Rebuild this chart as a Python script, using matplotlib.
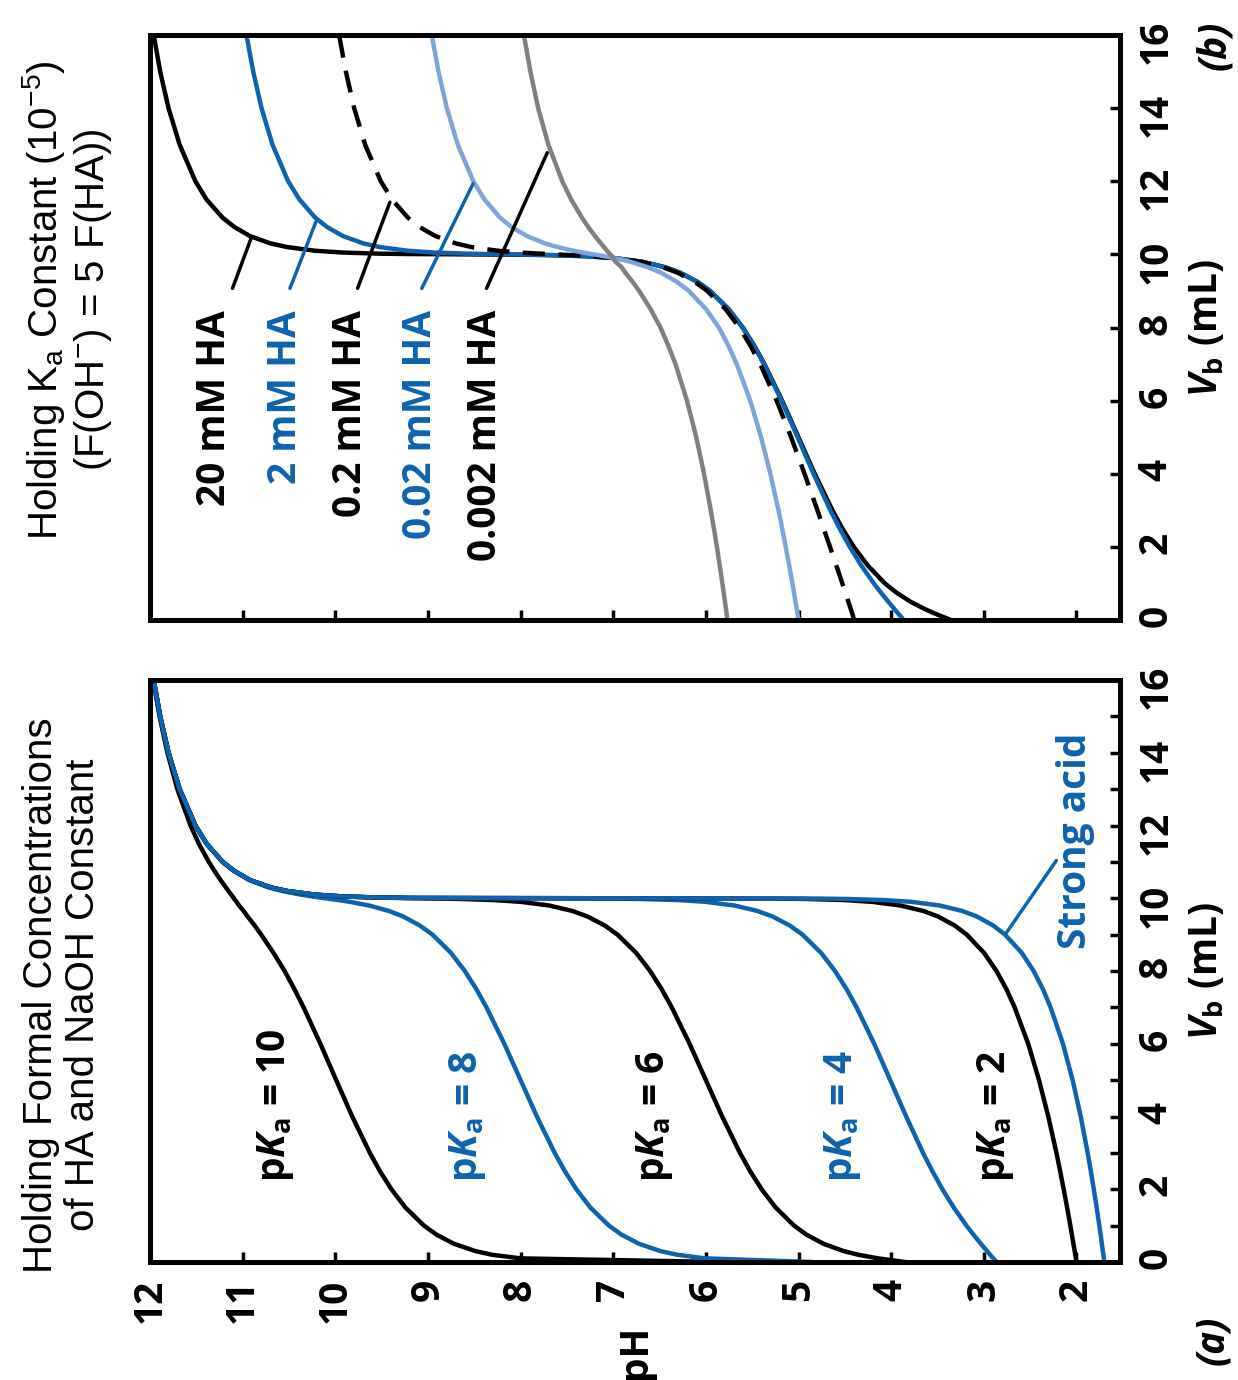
import matplotlib
matplotlib.use('Agg')
import matplotlib.pyplot as plt
from matplotlib.ticker import MultipleLocator

plt.rcParams['mathtext.fontset'] = 'custom'
plt.rcParams['mathtext.rm'] = 'Open Sans:bold'
plt.rcParams['mathtext.it'] = 'Open Sans:italic:bold'
plt.rcParams['mathtext.bf'] = 'Open Sans:bold'
plt.rcParams['mathtext.sf'] = 'Liberation Sans'

BLUE = '#0f62ad'
LIGHT = '#7ea5d8'
GRAY = '#808080'
BOLD = dict(family=['Open Sans', 'DejaVu Sans'], weight='bold')

# volume of base added (mL), shared by every curve
vb = [0, 0.1, 0.2, 0.3, 0.5, 0.75, 1, 1.5, 2, 2.5, 3, 4, 5, 6, 7, 7.5, 8, 8.5,
      9, 9.25, 9.5, 9.65, 9.8, 9.9, 9.95, 9.98, 9.99, 10,
      10.01, 10.02, 10.05, 10.1, 10.2, 10.3, 10.5, 10.75, 11, 11.5, 12, 13, 14, 15, 16]

# panel (a): pH for each pKa
ph_strong = [1.70, 1.704, 1.709, 1.715, 1.726, 1.739, 1.753, 1.782, 1.813, 1.845,
             1.879, 1.954, 2.041, 2.146, 2.279, 2.362, 2.462, 2.591, 2.771, 2.898,
             3.076, 3.232, 3.476, 3.777, 4.079, 4.477, 4.78, 7.0,
             9.22, 9.52, 9.92, 10.22, 10.52, 10.70, 10.92, 11.09, 11.215, 11.39,
             11.51, 11.68, 11.80, 11.89, 11.96]
ph_pka2 = [2.0, 2.006, 2.013, 2.019, 2.033, 2.049, 2.066, 2.101, 2.138, 2.176,
           2.216, 2.304, 2.404, 2.521, 2.667, 2.756, 2.863, 2.998, 3.184, 3.314,
           3.495, 3.653, 3.90, 4.20, 4.50, 4.90, 5.20, 7.1,
           9.22, 9.52, 9.92, 10.22, 10.52, 10.70, 10.92, 11.09, 11.215, 11.39,
           11.51, 11.68, 11.80, 11.89, 11.96]
ph_pka4 = [2.865, 2.898, 2.932, 2.965, 3.031, 3.111, 3.187, 3.325, 3.447, 3.556,
           3.656, 3.838, 4.010, 4.183, 4.373, 4.481, 4.606, 4.757, 4.957, 5.094,
           5.282, 5.443, 5.69, 6.00, 6.30, 6.70, 7.0, 8.11,
           9.225, 9.52, 9.92, 10.22, 10.52, 10.70, 10.92, 11.09, 11.215, 11.39,
           11.51, 11.68, 11.80, 11.89, 11.96]
ph_pka6 = [3.851, 4.140, 4.357, 4.513, 4.730, 4.913, 5.048, 5.248, 5.398, 5.523,
           5.632, 5.824, 6.0, 6.176, 6.368, 6.477, 6.602, 6.753, 6.954, 7.091,
           7.279, 7.441, 7.690, 7.993, 8.29, 8.64, 8.85, 9.11,
           9.375, 9.577, 9.93, 10.224, 10.52, 10.70, 10.92, 11.09, 11.215, 11.39,
           11.51, 11.68, 11.80, 11.89, 11.96]
ph_pka8 = [4.85, 6.009, 6.31, 6.490, 6.721, 6.909, 7.046, 7.248, 7.398, 7.523,
           7.632, 7.824, 8.0, 8.176, 8.368, 8.477, 8.602, 8.752, 8.951, 9.087,
           9.268, 9.420, 9.633, 9.84, 9.965, 10.06, 10.08, 10.11,
           10.139, 10.167, 10.249, 10.374, 10.575, 10.723, 10.927, 11.096, 11.217,
           11.388, 11.51, 11.68, 11.80, 11.89, 11.96]
ph_pka10 = [5.85, 8.0, 8.31, 8.488, 8.719, 8.906, 9.043, 9.244, 9.394, 9.519,
            9.627, 9.817, 9.990, 10.161, 10.342, 10.441, 10.547, 10.668, 10.80, 10.87,
            10.947, 10.99, 11.039, 11.065, 11.08, 11.09, 11.093, 11.094,
            11.097, 11.100, 11.109, 11.124, 11.153, 11.182, 11.238, 11.304, 11.365,
            11.473, 11.563, 11.705, 11.812, 11.897, 11.966]

# panel (b): pH for each HA concentration, pKa = 5
ph_20mM = [3.354, 3.454, 3.549, 3.637, 3.791, 3.944, 4.067, 4.256, 4.403, 4.527,
           4.634, 4.825, 5.001, 5.177, 5.368, 5.477, 5.602, 5.753, 5.954, 6.091,
           6.279, 6.441, 6.690, 6.996, 7.30, 7.69, 7.97, 8.61,
           9.246, 9.53, 9.92, 10.22, 10.52, 10.70, 10.92, 11.09, 11.215, 11.39,
           11.51, 11.68, 11.80, 11.89, 11.96]
ph_2mM = [3.865, 3.898, 3.932, 3.965, 4.031, 4.111, 4.187, 4.325, 4.447, 4.556,
          4.656, 4.838, 5.010, 5.183, 5.373, 5.481, 5.606, 5.757, 5.957, 6.094,
          6.282, 6.443, 6.69, 6.99, 7.29, 7.65, 7.84, 8.11,
          8.375, 8.58, 8.93, 9.22, 9.52, 9.697, 9.917, 10.09, 10.215, 10.387,
          10.509, 10.678, 10.796, 10.886, 10.959]
ph_02mM = [4.398, 4.411, 4.423, 4.436, 4.462, 4.494, 4.527, 4.593, 4.660, 4.728,
           4.796, 4.935, 5.080, 5.236, 5.414, 5.518, 5.639, 5.787, 5.985, 6.120,
           6.305, 6.467, 6.71, 6.996, 7.24, 7.46, 7.545, 7.62,
           7.709, 7.791, 8.00, 8.25, 8.53, 8.70, 8.918, 9.092, 9.215, 9.387,
           9.509, 9.678, 9.796, 9.886, 9.959]
ph_002mM = [5.0, 5.007, 5.013, 5.019, 5.033, 5.049, 5.066, 5.101, 5.138, 5.176,
            5.216, 5.304, 5.404, 5.521, 5.667, 5.756, 5.86, 5.998, 6.183, 6.314,
            6.486, 6.63, 6.817, 6.996, 7.10, 7.164, 7.19, 7.21,
            7.235, 7.257, 7.322, 7.43, 7.60, 7.737, 7.93, 8.099, 8.22, 8.389,
            8.51, 8.678, 8.796, 8.886, 8.959]
ph_0002mM = [5.767, 5.772, 5.778, 5.783, 5.794, 5.808, 5.822, 5.851, 5.881, 5.913,
             5.947, 6.02, 6.104, 6.204, 6.328, 6.405, 6.49, 6.596, 6.72, 6.791,
             6.87, 6.91, 6.977, 7.0, 7.015, 7.025, 7.03, 7.033,
             7.037, 7.04, 7.05, 7.067, 7.10, 7.133, 7.196, 7.27, 7.337, 7.454,
             7.55, 7.70, 7.81, 7.894, 7.964]

ph_ticks = list(range(2, 13))
vb_ticks = list(range(0, 17, 2))

fig = plt.figure(figsize=(12.38, 13.8), dpi=100)
W, H = 1238, 1380
ax_a = fig.add_axes([150 / W, 1 - 1262 / H, 970 / W, 582 / H])
ax_b = fig.add_axes([150 / W, 1 - 620 / H, 970 / W, 585 / H])

LW = 3.2
for ax in (ax_a, ax_b):
    ax.set_xlim(12, 1.53)
    ax.set_ylim(0, 16)
    for s in ax.spines.values():
        s.set_linewidth(3.6)
    ax.set_xticks(ph_ticks)
    ax.set_yticks(vb_ticks)
    ax.yaxis.tick_right()
    ax.yaxis.set_label_position('right')
    ax.tick_params(axis='both', which='both', direction='in', length=7, width=2.5,
                   labelsize=28, pad=12)
    ax.tick_params(axis='y', labelrotation=90, left=False, right=True)
    ax.tick_params(axis='x', labelrotation=90, top=False)
    for lab in ax.get_xticklabels() + ax.get_yticklabels():
        lab.set_fontfamily(BOLD['family'])
        lab.set_fontweight('bold')
    ax.set_ylabel(r'$V_{\mathrm{b}}$ (mL)', fontsize=28, rotation=90, labelpad=8, **BOLD)

ax_a.yaxis.set_minor_locator(MultipleLocator(1))
ax_b.tick_params(axis='x', labelbottom=False)
ax_a.set_xlabel('pH', fontsize=28, rotation=90, va='center', **BOLD)
ax_a.xaxis.set_label_coords(0.5, -0.155)

# panel (a) curves
ax_a.plot(ph_pka10, vb, color='black', lw=LW)
ax_a.plot(ph_pka8, vb, color=BLUE, lw=LW)
ax_a.plot(ph_pka6, vb, color='black', lw=LW)
ax_a.plot(ph_pka4, vb, color=BLUE, lw=LW)
ax_a.plot(ph_pka2, vb, color='black', lw=LW)
ax_a.plot(ph_strong, vb, color=BLUE, lw=LW)

lab_kw = dict(fontsize=28, rotation=90, ha='center', va='bottom', **BOLD)
ax_a.text(10.65, 2.2, r'p$K_{\mathrm{a}}$ = 10', color='black', **lab_kw)
ax_a.text(8.57, 2.2, r'p$K_{\mathrm{a}}$ = 8', color=BLUE, **lab_kw)
ax_a.text(6.55, 2.2, r'p$K_{\mathrm{a}}$ = 6', color='black', **lab_kw)
ax_a.text(4.53, 2.2, r'p$K_{\mathrm{a}}$ = 4', color=BLUE, **lab_kw)
ax_a.text(2.87, 2.2, r'p$K_{\mathrm{a}}$ = 2', color='black', **lab_kw)
ax_a.text(2.01, 8.6, 'Strong acid', color=BLUE, **lab_kw)
ax_a.annotate('', xy=(2.77, 9.0), xytext=(2.2, 11.1),
              arrowprops=dict(arrowstyle='-', color=BLUE, lw=2.5))

# panel (b) curves
ax_b.plot(ph_20mM, vb, color='black', lw=LW)
ax_b.plot(ph_2mM, vb, color=BLUE, lw=LW)
ax_b.plot(ph_02mM, vb, color='black', lw=LW, dashes=(5, 3))
ax_b.plot(ph_002mM, vb, color=LIGHT, lw=LW)
ax_b.plot(ph_0002mM, vb, color=GRAY, lw=LW)

top_kw = dict(fontsize=28, rotation=90, ha='center', va='top', **BOLD)
ax_b.text(11.30, 8.48, '20 mM HA', color='black', **top_kw)
ax_b.text(10.54, 8.48, '2 mM HA', color=BLUE, **top_kw)
ax_b.text(9.84, 8.48, '0.2 mM HA', color='black', **top_kw)
ax_b.text(9.08, 8.48, '0.02 mM HA', color=BLUE, **top_kw)
ax_b.text(8.38, 8.48, '0.002 mM HA', color='black', **top_kw)
ptr = [(11.12, 9.0, 10.9, 10.5, 'black'), (10.5, 9.0, 10.2, 10.95, BLUE),
       (9.77, 9.0, 9.4, 11.5, 'black'), (9.08, 9.0, 8.5, 12.0, BLUE),
       (8.38, 9.0, 7.7, 12.85, 'black')]
for x0, y0, x1, y1, c in ptr:
    ax_b.annotate('', xy=(x1, y1), xytext=(x0, y0),
                  arrowprops=dict(arrowstyle='-', color=c, lw=2.5))

# titles
TFONT = dict(family=['Liberation Sans', 'DejaVu Sans'], fontsize=29)
fig.text(62 / W, 1 - 995 / H, 'Holding Formal Concentrations\nof HA and NaOH Constant',
         rotation=90, ha='center', va='center', multialignment='center',
         linespacing=1.15, **TFONT)
fig.text(67 / W, 1 - 300 / H,
         'Holding K$_\\mathsf{a}$ Constant (10$^\\mathsf{-5}$)\n(F(OH$^\\mathsf{-}$) = 5 F(HA))',
         rotation=90, ha='center', va='center', multialignment='center',
         linespacing=1.15, **TFONT)

fig.text(1213 / W, 1 - 1340 / H, '(a)', rotation=90, ha='center', va='center',
         fontsize=28, style='italic', **BOLD)
fig.text(1215 / W, 1 - 45 / H, '(b)', rotation=90, ha='center', va='center',
         fontsize=28, style='italic', **BOLD)

fig.savefig('out.png', dpi=100)
